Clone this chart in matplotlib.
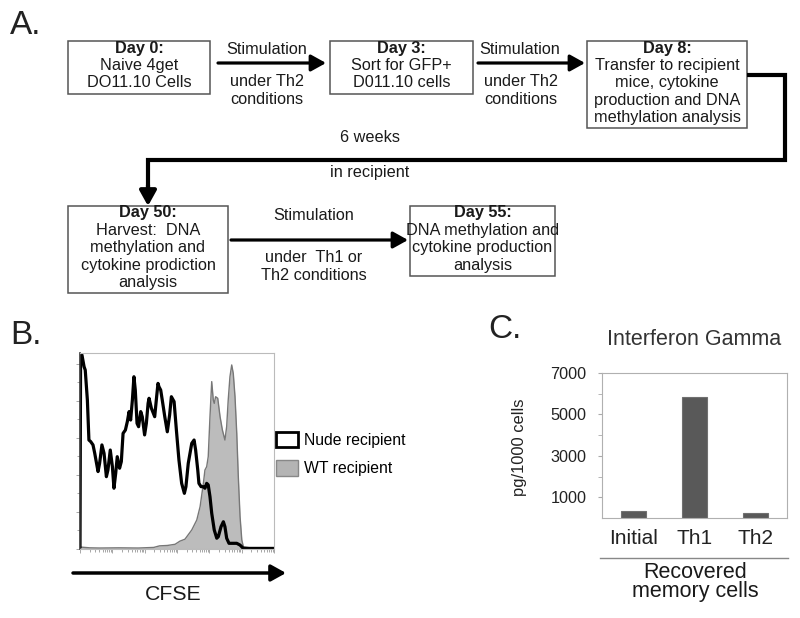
import matplotlib
matplotlib.use("Agg")
import matplotlib.pyplot as plt
import numpy as np
from matplotlib.patches import Rectangle, Patch

plt.rcParams['font.family'] = ['Liberation Sans', 'DejaVu Sans']

# --- data ---
# B: CFSE histogram (x = CFSE channel %, y = % of max)
nude_x = [0, 0.3, 1.0, 2.1, 2.7, 3.8, 4.6, 5.5, 6.7, 7.6,
          9.3, 10.1, 11.3, 12.4, 13.6, 14.4, 15.6, 16.7, 17.5, 18.4,
          19.2, 20.4, 21.3, 22.2, 23.4, 24.4, 25.3, 26.1, 27.0, 27.8,
          28.5, 29.4, 30.2, 31.3, 32.1, 33.3, 34.2, 35.1, 35.6, 36.8,
          38.5, 39.5, 40.2, 40.7, 41.6, 42.4, 43.7, 45.0, 46.2, 47.1,
          48.5, 49.7, 51.0, 52.4, 53.8, 54.6, 55.8, 57.6, 58.8, 59.6,
          60.7, 61.3, 62.4, 63.6, 64.4, 65.3, 66.1, 67.0, 67.9, 69.2,
          70.5, 71.3, 72.7, 73.9, 74.7, 75.6, 76.8, 80.8, 82.5, 84.2,
          100]
nude_y = [1.2, 98.1, 99.0, 93.0, 91.3, 76.0, 55.6, 54.8, 53.1, 48.8,
          39.5, 43.7, 53.1, 48.8, 36.9, 40.3, 50.5, 42.0, 31.0, 38.6,
          47.1, 41.2, 44.6, 59.0, 60.7, 65.0, 70.1, 65.8, 76.0, 87.9,
          81.1, 64.1, 62.4, 70.1, 67.5, 58.2, 64.1, 74.3, 76.9, 71.8,
          67.5, 77.7, 84.5, 82.8, 81.1, 76.0, 67.5, 59.8, 68.4, 77.7,
          75.2, 60.5, 45.4, 33.5, 28.4, 31.8, 43.7, 53.9, 55.6, 50.5,
          40.3, 33.5, 31.8, 31.8, 31.0, 33.5, 32.7, 26.7, 18.2, 9.7,
          5.5, 6.3, 11.4, 13.9, 11.4, 5.5, 2.9, 2.9, 2.0, 0.3,
          0.3]
wt_x = [0, 5, 10, 20, 30, 38, 41, 45, 49.0, 51.5,
        54.1, 57.6, 60.2, 61.9, 63.6, 64.4, 65.3, 66.1, 67.0, 67.9,
        68.7, 69.2, 69.9, 71.0, 72.2, 73.4, 74.7, 75.6, 76.4, 77.3,
        78.2, 79.0, 79.9, 80.8, 81.6, 82.5, 83.4, 84.2, 88, 100]
wt_y = [1.0, 0.6, 0.5, 0.6, 0.5, 0.8, 1.6, 1.8, 2.4, 4.0,
        5.0, 9.7, 14.8, 21.6, 33.5, 40.3, 42.0, 47.1, 67.5, 85.4,
        76.0, 74.3, 77.7, 76.9, 67.5, 60.7, 55.6, 62.4, 76.0, 87.9,
        93.9, 89.6, 77.7, 59.0, 36.9, 16.5, 4.6, 1.2, 0.5, 0.5]

# C: interferon gamma
groups = ["Initial", "Th1", "Th2"]
ifng = [350, 5860, 230]

# A: flow chart text
box_texts = [
    ["Day 0:", "Naive 4get", "DO11.10 Cells"],
    ["Day 3:", "Sort for GFP+", "D011.10 cells"],
    ["Day 8:", "Transfer to recipient", "mice, cytokine",
     "production and DNA", "methylation analysis"],
    ["Day 50:", "Harvest:  DNA", "methylation and",
     "cytokine prodiction", "analysis"],
    ["Day 55:", "DNA methylation and", "cytokine production", "analysis"],
]

W, H = 800, 618
fig = plt.figure(figsize=(8, 6.18), dpi=100)
ax0 = fig.add_axes([0, 0, 1, 1])
ax0.set_xlim(0, W); ax0.set_ylim(H, 0); ax0.axis("off")


def px_axes(x0, y0, x1, y1):
    return fig.add_axes([x0 / W, 1 - y1 / H, (x1 - x0) / W, (y1 - y0) / H])


def box(x0, y0, x1, y1, lines, y_first, step=17.4):
    ax0.add_patch(Rectangle((x0, y0), x1 - x0, y1 - y0, fill=False,
                            ec="#555555", lw=1.1))
    cx = (x0 + x1) / 2
    for i, s in enumerate(lines):
        ax0.text(cx, y_first + i * step, s, ha="center", va="center",
                 fontsize=11.7, color="#1a1a1a",
                 fontweight="bold" if i == 0 else "normal")


def arrow(x0, y0, x1, y1, lw=2.3):
    ax0.annotate("", xy=(x1, y1), xytext=(x0, y0),
                 arrowprops=dict(arrowstyle="-|>,head_length=0.9,head_width=0.5",
                                 lw=lw, color="black", shrinkA=0, shrinkB=0,
                                 mutation_scale=10))


def label(x, y, s, fs=11.7):
    ax0.text(x, y, s, ha="center", va="center", fontsize=fs, color="#1a1a1a")


# --- A ---
ax0.text(10, 25, "A.", fontsize=24, va="center", ha="left", color="#222222")
box(68, 41, 210, 94, box_texts[0], 48)
box(330, 41, 473, 94, box_texts[1], 48)
box(587, 41, 747, 128, box_texts[2], 48)
box(68, 206, 228, 293, box_texts[3], 213)
box(410, 206, 555, 276, box_texts[4], 213)

arrow(218, 63, 326, 63)
label(267, 50, "Stimulation"); label(267, 81, "under Th2"); label(267, 99, "conditions")
arrow(478, 63, 585, 63)
label(520, 50, "Stimulation"); label(521, 81, "under Th2"); label(521, 99, "conditions")

ax0.plot([747, 785, 785, 148, 148], [75, 75, 160, 160, 192], color="black",
         lw=3, solid_joinstyle="miter", solid_capstyle="butt")
arrow(148, 185, 148, 206, lw=3)
label(370, 138, "6 weeks"); label(370, 173, "in recipient")

arrow(231, 240, 408, 240)
label(314, 215, "Stimulation"); label(314, 257, "under  Th1 or"); label(314, 275, "Th2 conditions")

# --- B ---
ax0.text(10, 335, "B.", fontsize=24, va="center", ha="left", color="#222222")
axb = px_axes(80, 353, 274, 549)
axb.fill_between(wt_x, wt_y, color="#bcbcbc", lw=0)
axb.plot(wt_x, wt_y, color="#777777", lw=1)
axb.plot(nude_x, nude_y, color="black", lw=2.3)
axb.set_xlim(0, 100); axb.set_ylim(0, 100)
dec = 100 / 6
major = np.arange(7) * dec
minor = [d + np.log10(k) * dec for d in major[:-1] for k in range(2, 10)]
axb.set_xticks(major); axb.set_xticks(minor, minor=True)
axb.set_yticks(np.arange(0, 100, 18.9)); axb.set_yticks(np.arange(9.45, 100, 18.9), minor=True)
axb.tick_params(which="both", labelbottom=False, labelleft=False, direction="out",
                color="#999999", width=0.6)
axb.tick_params(which="major", length=3)
axb.tick_params(which="minor", length=2)
for s in ["top", "right", "bottom"]:
    axb.spines[s].set_color("#bbbbbb")
axb.spines["left"].set_color("#333333")
axb.spines["left"].set_linewidth(1.2)
handles = [Patch(facecolor="white", edgecolor="black", lw=2, label="Nude recipient"),
           Patch(facecolor="#b4b4b4", edgecolor="#888888", lw=1, label="WT recipient")]
axb.legend(handles=handles, loc="center left", bbox_to_anchor=(1.01, 0.485),
           frameon=False, fontsize=11.3, handlelength=1.4, handleheight=1.15,
           handletextpad=0.4, labelspacing=0.8, borderaxespad=0, borderpad=0)
arrow(73, 573, 286, 573, lw=2.5)
label(173, 595, "CFSE", fs=15.3)

# --- C ---
ax0.text(488, 329, "C.", fontsize=24, va="center", ha="left", color="#222222")
axc = px_axes(602, 373, 787, 518)
axc.bar(range(len(groups)), ifng, width=0.41, color="#595959", edgecolor="#707070", lw=0.8)
axc.set_xlim(-0.52, 2.51); axc.set_ylim(0, 7000)
axc.set_yticks([1000, 3000, 5000, 7000])
axc.set_yticks([2000, 4000, 6000], minor=True)
axc.set_xticks(range(len(groups)), groups)
axc.tick_params(axis="x", length=0, pad=8, labelsize=15, labelcolor="#222222")
axc.tick_params(axis="y", which="both", length=3, color="#aaaaaa", labelsize=11.7,
                labelcolor="#222222", pad=8)
for s in axc.spines.values():
    s.set_color("#b0b0b0")
axc.set_title("Interferon Gamma", fontsize=15.5, color="#333333", pad=20)
axc.set_ylabel("pg/1000 cells", fontsize=11.9, color="#222222")
axc.yaxis.set_label_coords(-0.405, 0.49)
ax0.plot([600, 788], [558, 558], color="#888888", lw=1)
label(695, 573, "Recovered", fs=15.5)
label(695, 592, "memory cells", fs=15.5)

fig.savefig("out.png", dpi=100)
